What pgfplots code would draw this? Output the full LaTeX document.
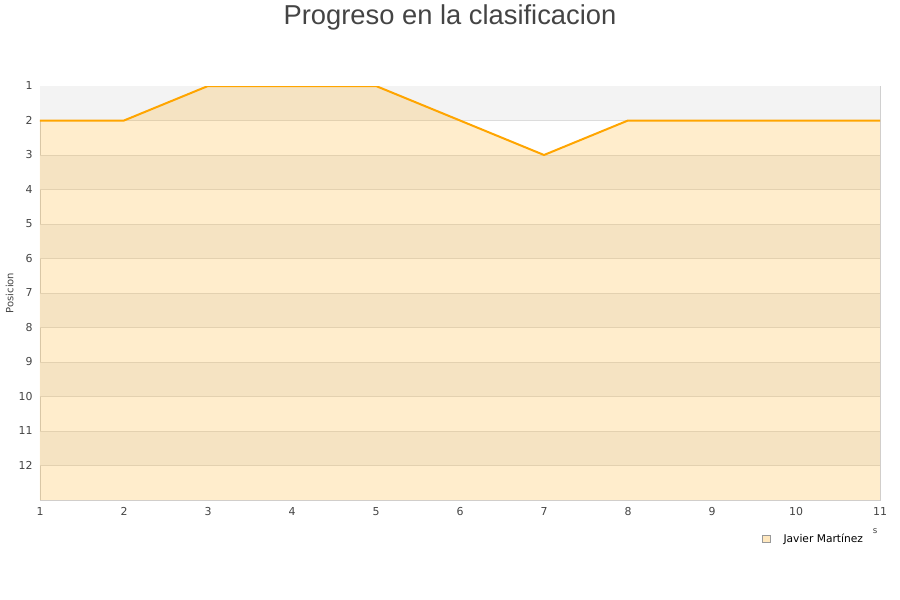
\documentclass[border=0pt]{standalone}
\usepackage{pgfplots}
\pgfplotsset{compat=1.18}
\usepackage{fontspec}
\setmainfont{DejaVu Sans}
\newfontfamily\titlefont{Liberation Sans}
\definecolor{lineorange}{HTML}{FFA500}
\definecolor{bandgray}{HTML}{F3F3F3}
\definecolor{bordergray}{HTML}{D0D0D0}
\definecolor{gridgray}{HTML}{DCDCDC}
\definecolor{ticktext}{HTML}{444444}
\begin{document}
\begin{tikzpicture}
\useasboundingbox (0pt,0pt) rectangle (675pt,450pt);
\node[text=ticktext, font=\titlefont\fontsize{20.5}{24}\selectfont] at (337.5pt,437pt) {Progreso en la clasificacion};
\begin{axis}[
    at={(30pt,75pt)}, anchor=south west,
    scale only axis,
    width=630pt, height=310.5pt,
    xmin=1, xmax=11,
    ymin=1, ymax=13,
    y dir=reverse,
    xtick={1,...,11},
    ytick={1,...,12},
    major tick length=0pt,
    axis line style={bordergray},
    tick label style={text=ticktext, font=\fontsize{8.2}{9}\selectfont},
    /pgf/number format/assume math mode=true,
    yticklabel style={xshift=-2pt},
    xticklabel style={yshift=-2pt},
    ylabel={Posicion},
    ylabel style={font=\fontsize{7.5}{9}\selectfont, text=ticktext, anchor=center,
        at={(axis description cs:-0.036,0.5)}},
    legend style={draw=none, fill=none, font=\fontsize{8}{9}\selectfont,
        at={(axis description cs:0.988,-0.094)}, anchor=east},
    legend image code/.code={\draw[fill=lineorange!25, fill opacity=1, draw=gray!80] (0pt,-2.8pt) rectangle (5.6pt,2.8pt);},
]
% alternating background bands and grid lines
\pgfplotsinvokeforeach{1,3,5,7,9,11}{
  \fill[bandgray] (axis cs:1,#1) rectangle (axis cs:11,#1+1);
}
\pgfplotsinvokeforeach{2,...,12}{
  \draw[gridgray, line width=0.6pt] (axis cs:1,#1) -- (axis cs:11,#1);
}
\addplot[fill=lineorange, fill opacity=0.2, draw=none] coordinates {
  (1,2) (2,2) (3,1) (4,1) (5,1) (6,2) (7,3) (8,2) (9,2) (10,2) (11,2)
  (11,13) (1,13)
} --cycle;
\addlegendentry{\hspace{8pt}Javier Martínez}
\addplot[lineorange, line width=1.5pt, forget plot] coordinates {
  (1,2) (2,2) (3,1) (4,1) (5,1) (6,2) (7,3) (8,2) (9,2) (10,2) (11,2)
};
\end{axis}
\node[font=\fontsize{6.5}{7}\selectfont, text=ticktext] at (656.25pt,51.75pt) {s};
\end{tikzpicture}
\end{document}
